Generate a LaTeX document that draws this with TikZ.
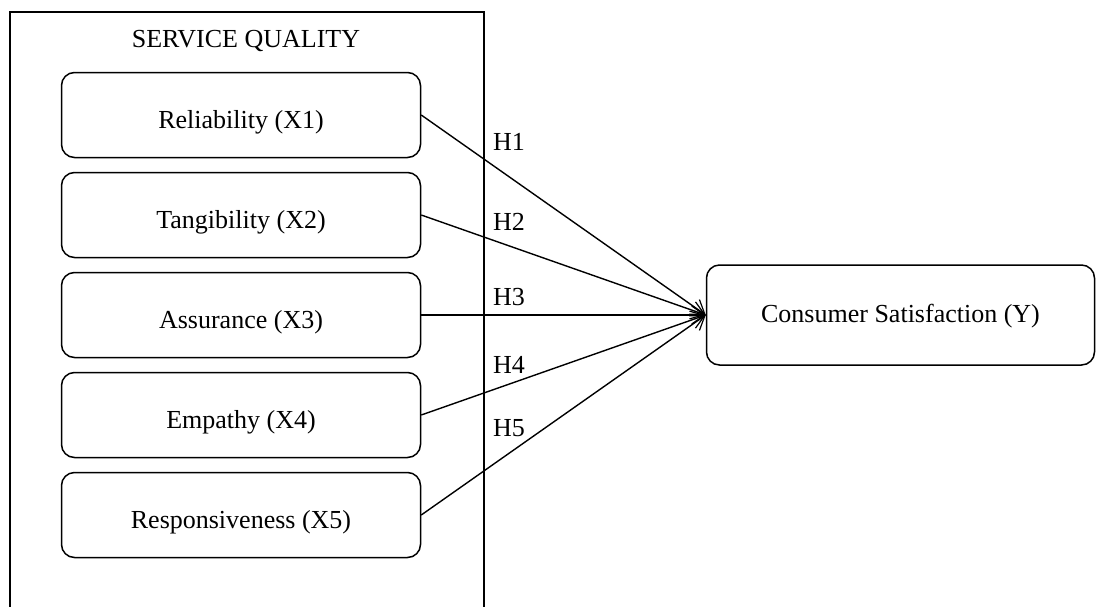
\documentclass[tikz,border=0pt]{standalone}
\usepackage{fontspec}
\setmainfont{Liberation Serif}
\usetikzlibrary{arrows.meta}
\begin{document}
\begin{tikzpicture}[x=1pt,y=-1pt,
  every node/.style={font=\fontsize{26}{30}\selectfont},
  varbox/.style={draw,line width=1.5pt,rounded corners=13pt,minimum width=359pt,minimum height=85pt,inner sep=0pt,text height=26pt,text depth=0pt},
  link/.style={line width=1.4pt,-{Straight Barb[length=13pt,width=18pt,line width=1.2pt]}},
  hlabel/.style={anchor=west,inner sep=0pt}]
\useasboundingbox (0,0) rectangle (1096,606);
\draw[line width=1.6pt] (10,620) |- (484,12) -- (484,620);
\node (title) at (246,41) {SERVICE QUALITY};
\node[varbox] (x1) at (241,115) {Reliability (X1)};
\node[varbox] (x2) at (241,215) {Tangibility (X2)};
\node[varbox] (x3) at (241,315) {Assurance (X3)};
\node[varbox] (x4) at (241,415) {Empathy (X4)};
\node[varbox] (x5) at (241,515) {Responsiveness (X5)};
\node[varbox,minimum width=388pt,minimum height=100pt,text height=14pt] (y) at (900.5,315) {Consumer Satisfaction (Y)};
\draw[link] (x1.east) -- (y.west);
\draw[link] (x2.east) -- (y.west);
\draw[link] (x3.east) -- (y.west);
\draw[link] (x4.east) -- (y.west);
\draw[link] (x5.east) -- (y.west);
\node[hlabel] (h1) at (493,142) {H1};
\node[hlabel] (h2) at (493,222) {H2};
\node[hlabel] (h3) at (493,297) {H3};
\node[hlabel] (h4) at (493,365) {H4};
\node[hlabel] (h5) at (493,428) {H5};
\end{tikzpicture}
\end{document}
